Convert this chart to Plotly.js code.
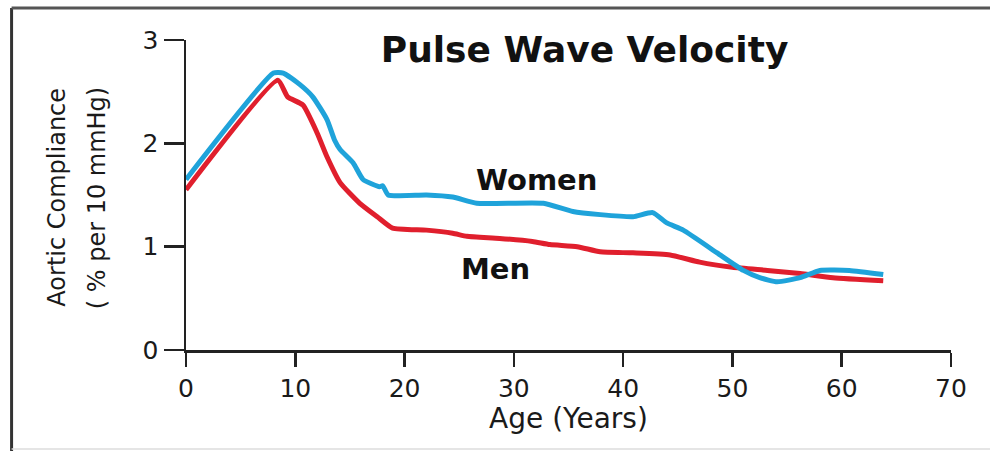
<!DOCTYPE html>
<html>
<head>
<meta charset="utf-8">
<script src="https://cdn.plot.ly/plotly-3.0.1.min.js"></script>
<style>html,body{margin:0;padding:0;background:#fff;}#chart{width:990px;height:451px;}</style>
</head>
<body>
<div id="chart"></div>
<script>
// Men (red)
var menAge = [0, 8.4, 9.3, 10.7, 12.0, 12.9, 14.1, 15.9, 17.5, 18.9, 22.0, 24.4, 25.7, 28.7, 31.7, 33.3, 35.8, 37.9, 40.9, 44.3, 47.0, 50.0, 53.2, 56.2, 59.2, 63.8];
var menVal = [1.55, 2.61, 2.45, 2.37, 2.10, 1.87, 1.62, 1.42, 1.29, 1.18, 1.16, 1.13, 1.10, 1.08, 1.05, 1.02, 1.00, 0.95, 0.94, 0.92, 0.85, 0.80, 0.77, 0.74, 0.70, 0.67];
// Women (blue)
var womenAge = [0, 8.0, 8.9, 10.4, 11.6, 12.9, 13.6, 14.1, 15.3, 16.2, 17.7, 18.0, 18.5, 22.0, 24.4, 26.6, 32.7, 35.4, 37.9, 40.9, 42.7, 44.0, 45.5, 48.6, 51.0, 52.5, 54.1, 56.2, 58.0, 60.7, 63.8];
var womenVal = [1.65, 2.68, 2.68, 2.57, 2.45, 2.23, 2.03, 1.94, 1.81, 1.65, 1.58, 1.59, 1.50, 1.50, 1.48, 1.42, 1.42, 1.34, 1.31, 1.29, 1.33, 1.23, 1.16, 0.94, 0.77, 0.70, 0.66, 0.70, 0.77, 0.77, 0.73];
var xTicks = [0, 10, 20, 30, 40, 50, 60, 70];
var yTicks = [0, 1, 2, 3];
var yTitleLines = ['Aortic Compliance', '( % per 10 mmHg)'];

var font = "'DejaVu Sans', 'Open Sans', sans-serif";
var traces = [
  {x: menAge, y: menVal, mode: 'lines', line: {color: '#e01f2d', width: 5, shape: 'spline', smoothing: 0.5}, name: 'Men'},
  {x: womenAge, y: womenVal, mode: 'lines', line: {color: '#1fa3da', width: 5, shape: 'spline', smoothing: 0.5}, name: 'Women'}
];
var layout = {
  width: 990, height: 451,
  margin: {l: 186, r: 39, t: 40, b: 101},
  paper_bgcolor: '#fff', plot_bgcolor: '#fff',
  showlegend: false,
  font: {family: font, color: '#1a1a1a'},
  title: {text: '<b>Pulse Wave Velocity</b>', font: {family: font, size: 36, color: '#111'}, xref: 'paper', yref: 'paper', x: 0.521, xanchor: 'center', y: 0.971, yanchor: 'middle'},
  xaxis: {
    range: [0, 70], tickvals: xTicks, ticktext: xTicks.map(String),
    showline: true, linecolor: '#222', linewidth: 2.5,
    ticks: 'outside', ticklen: 14, tickwidth: 2.5, tickcolor: '#222',
    showgrid: false, zeroline: false,
    tickfont: {family: font, size: 25, color: '#1a1a1a'},
    title: {text: 'Age (Years)', font: {family: font, size: 28, color: '#1a1a1a'}, standoff: 4}
  },
  yaxis: {
    range: [0, 3], tickvals: yTicks, ticktext: yTicks.map(String),
    showline: true, linecolor: '#222', linewidth: 2.5,
    ticks: 'outside', ticklen: 20, tickwidth: 2.5, tickcolor: '#222',
    showgrid: false, zeroline: false,
    tickfont: {family: font, size: 25, color: '#1a1a1a'}
  },
  annotations: [
    {text: yTitleLines[0], textangle: -90, x: -0.168, y: 0.493, xref: 'paper', yref: 'paper', xanchor: 'center', yanchor: 'middle', showarrow: false, font: {family: font, size: 24, color: '#1a1a1a'}},
    {text: yTitleLines[1], textangle: -90, x: -0.117, y: 0.491, xref: 'paper', yref: 'paper', xanchor: 'center', yanchor: 'middle', showarrow: false, font: {family: font, size: 24, color: '#1a1a1a'}},
    {text: '<b>Women</b>', x: 32.1, y: 1.645, xref: 'x', yref: 'y', showarrow: false, font: {family: font, size: 29, color: '#111'}},
    {text: '<b>Men</b>', x: 28.3, y: 0.784, xref: 'x', yref: 'y', showarrow: false, font: {family: font, size: 29, color: '#111'}}
  ],
  shapes: [
    {type: 'line', xref: 'paper', yref: 'paper', x0: -0.228, x1: -0.228, y0: 1.103, y1: -0.33, line: {color: '#333', width: 3}},
    {type: 'line', xref: 'paper', yref: 'paper', x0: -0.228, x1: 1.06, y0: 1.103, y1: 1.103, line: {color: '#555', width: 3}},
    {type: 'line', xref: 'paper', yref: 'paper', x0: -0.228, x1: 1.06, y0: -0.319, y1: -0.319, line: {color: '#ddd', width: 1.5}}
  ]
};
Plotly.newPlot('chart', traces, layout, {displayModeBar: false, staticPlot: true});
</script>
</body>
</html>
